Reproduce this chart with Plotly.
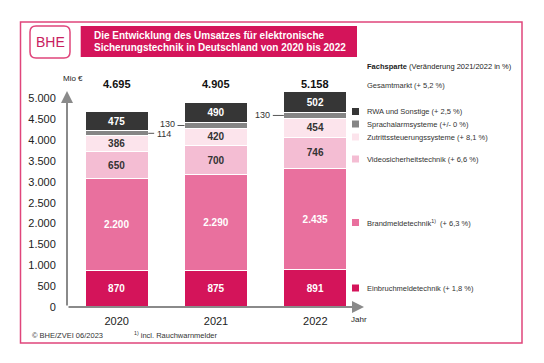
import plotly.graph_objects as go

# ---------------- data ----------------
years = ["2020", "2021", "2022"]
series_names = ["Einbruchmeldetechnik", "Brandmeldetechnik<sup>1)</sup>", "Videosicherheitstechnik",
                "Zutrittssteuerungssysteme", "Sprachalarmsysteme", "RWA und Sonstige"]
series_changes = ["(+ 1,8 %)", "(+ 6,3 %)", "(+ 6,6 %)", "(+ 8,1 %)", "(+/- 0 %)", "(+ 2,5 %)"]
einbruch = [870, 875, 891]
brand = [2200, 2290, 2435]
video = [650, 700, 746]
zutritt = [386, 420, 454]
sprachalarm = [114, 130, 130]
rwa = [475, 490, 502]
totals = [4695, 4905, 5158]
total_change = "Gesamtmarkt (+ 5,2 %)"
y_ticks = [0, 500, 1000, 1500, 2000, 2500, 3000, 3500, 4000, 4500, 5000]

series_values = [einbruch, brand, video, zutritt, sprachalarm, rwa]
colors = ["#D4145A", "#E9709E", "#F4BDD3", "#FCE4EC", "#858585", "#363636"]
label_colors = ["white", "white", "#333333", "#333333", "#333333", "white"]

FONT = "Liberation Sans, Arial, sans-serif"
W, H = 544, 363
L, R, T, B = 67, 179, 70, 56
PW, PH = W - L - R, H - T - B
YMAX = 5680
BARW = 0.634


def px(x):
    return (x - L) / PW


def py(y):
    return (H - B - y) / PH


def fmt(v):
    return f"{v:,}".replace(",", ".")


fig = go.Figure()
for i, (name, vals) in enumerate(zip(series_names, series_values)):
    show_text = i != 4
    fig.add_trace(go.Bar(
        x=years, y=vals, name=name, width=BARW,
        marker=dict(color=colors[i], line=dict(color="white", width=1)),
        text=[fmt(v) for v in vals] if show_text else None,
        textposition="inside" if show_text else "none",
        insidetextanchor="middle", textangle=0, constraintext="none",
        textfont=dict(family=FONT, size=10, color=label_colors[i], weight="bold"),
        hoverinfo="skip", showlegend=False,
    ))

annotations = []
shapes = []

# totals above bars
for i, t in enumerate(totals):
    annotations.append(dict(x=i, y=py(84), xref="x", yref="paper", text=f"<b>{fmt(t)}</b>",
                            showarrow=False, xanchor="center",
                            font=dict(family=FONT, size=11, color="#111111")))

# Sprachalarm labels with leader lines
for i, v in enumerate(sprachalarm):
    base = einbruch[i] + brand[i] + video[i] + zutritt[i]
    ymid = base + v / 2
    if i == 0:
        x0 = i + BARW / 2
        x1 = x0 + 6 / (PW / 3)
        anchor = "left"
    else:
        x0 = i - BARW / 2
        x1 = x0 - (7 if i == 1 else 11) / (PW / 3)
        anchor = "right"
    shapes.append(dict(type="line", xref="x", yref="y", x0=x0, x1=x1, y0=ymid, y1=ymid,
                       line=dict(color="#555555", width=1)))
    annotations.append(dict(x=x1, y=ymid, xref="x", yref="y", text=fmt(v), showarrow=False,
                            xanchor=anchor, xshift=1 if anchor == "left" else -1,
                            yshift=1.5 if i == 1 else (-0.5 if i == 0 else 0),
                            font=dict(family=FONT, size=9, color="#333333")))

# axis arrows
annotations.append(dict(x=0, y=py(91), xref="paper", yref="paper", ax=0, ay=216, text="",
                        showarrow=True, arrowhead=2, arrowsize=1.2, arrowwidth=2, arrowcolor="#8a8a8a"))
annotations.append(dict(x=px(364), y=0, xref="paper", yref="paper", ax=-297, ay=0, text="",
                        showarrow=True, arrowhead=2, arrowsize=1.2, arrowwidth=2, arrowcolor="#8a8a8a"))
annotations.append(dict(x=px(349), y=py(319), xref="paper", yref="paper", text="Jahr", showarrow=False,
                        xanchor="left", font=dict(family=FONT, size=8, color="#222222")))
annotations.append(dict(x=px(61), y=py(78), xref="paper", yref="paper", text="Mio €", showarrow=False,
                        xanchor="left", font=dict(family=FONT, size=8, color="#222222")))

# legend
leg_y = [288, 222.5, 159, 137, 124, 111.5]
for i in range(6):
    shapes.append(dict(type="rect", xref="paper", yref="paper", x0=px(352), x1=px(359),
                       y0=py(leg_y[i] + 3.5), y1=py(leg_y[i] - 3.5),
                       fillcolor=colors[i], line=dict(width=0)))
    annotations.append(dict(x=px(365), y=py(leg_y[i]), xref="paper", yref="paper",
                            text=f"{series_names[i]}  {series_changes[i]}" if i == 1 else f"{series_names[i]} {series_changes[i]}",
                            showarrow=False, xanchor="left",
                            font=dict(family=FONT, size=7.5, color="#333333")))
annotations.append(dict(x=px(365), y=py(86), xref="paper", yref="paper", text=total_change,
                        showarrow=False, xanchor="left", font=dict(family=FONT, size=7.5, color="#333333")))
annotations.append(dict(x=px(365), y=py(66), xref="paper", yref="paper",
                        text="<b>Fachsparte</b> (Veränderung 2021/2022 in %)",
                        showarrow=False, xanchor="left", font=dict(family=FONT, size=7.5, color="#222222")))

# footer
annotations.append(dict(x=px(30), y=py(335), xref="paper", yref="paper", text="© BHE/ZVEI 06/2023",
                        showarrow=False, xanchor="left", font=dict(family=FONT, size=7.5, color="#333333")))
annotations.append(dict(x=px(132), y=py(335), xref="paper", yref="paper",
                        text="<sup>1)</sup> incl. Rauchwarnmelder",
                        showarrow=False, xanchor="left", font=dict(family=FONT, size=7.5, color="#333333")))

# outer frame
shapes.append(dict(type="rect", xref="paper", yref="paper", x0=px(20.5), x1=px(522), y0=py(343), y1=py(22),
                   line=dict(color="#E0457B", width=1.5), fillcolor="rgba(0,0,0,0)", layer="below"))

# logo rounded box
def rrect(x0, y0, x1, y1, r):
    rx, ry = r / PW, r / PH
    X0, X1, Y0, Y1 = px(x0), px(x1), py(y1), py(y0)
    return (f"M {X0+rx},{Y0} L {X1-rx},{Y0} Q {X1},{Y0} {X1},{Y0+ry} L {X1},{Y1-ry} "
            f"Q {X1},{Y1} {X1-rx},{Y1} L {X0+rx},{Y1} Q {X0},{Y1} {X0},{Y1-ry} "
            f"L {X0},{Y0+ry} Q {X0},{Y0} {X0+rx},{Y0} Z")

shapes.append(dict(type="path", xref="paper", yref="paper", path=rrect(30, 26, 70, 58, 6),
                   line=dict(color="#E0457B", width=1.5), fillcolor="white"))
annotations.append(dict(x=px(50), y=py(42.5), xref="paper", yref="paper", text="BHE", showarrow=False,
                        xanchor="center", font=dict(family=FONT, size=14, color="#C8205E")))

# title banner
shapes.append(dict(type="rect", xref="paper", yref="paper", x0=px(80.7), x1=px(357), y0=py(57), y1=py(26),
                   fillcolor="#D4145A", line=dict(width=0)))
annotations.append(dict(x=px(92), y=py(36), xref="paper", yref="paper",
                        text="<b>Die Entwicklung des Umsatzes für elektronische</b>", showarrow=False,
                        xanchor="left", font=dict(family=FONT, size=10, color="white")))
annotations.append(dict(x=px(92), y=py(47), xref="paper", yref="paper",
                        text="<b>Sicherungstechnik in Deutschland von 2020 bis 2022</b>", showarrow=False,
                        xanchor="left", font=dict(family=FONT, size=10, color="white")))

for a in annotations:
    a.setdefault("yanchor", "middle")

fig.update_layout(
    barmode="stack", width=W, height=H,
    margin=dict(l=L, r=R, t=T, b=B, pad=0),
    paper_bgcolor="white", plot_bgcolor="white",
    separators=",.",
    font=dict(family=FONT, color="#222222"),
    shapes=shapes, annotations=annotations,
    xaxis=dict(type="category", range=[-0.5, 2.5], showgrid=False, zeroline=False, showline=False,
               ticks="outside", ticklen=4, tickcolor="rgba(0,0,0,0)",
               tickfont=dict(family=FONT, size=11, color="#222222")),
    yaxis=dict(range=[0, YMAX], tickvals=y_ticks, ticktext=[fmt(v) for v in y_ticks],
               showgrid=False, zeroline=False, showline=False,
               ticks="outside", ticklen=8, tickcolor="rgba(0,0,0,0)",
               tickfont=dict(family=FONT, size=11, color="#222222")),
)

fig.write_html("out.html", config={"displayModeBar": False},
               post_script="document.body.style.margin='0';document.body.style.overflow='hidden';")
